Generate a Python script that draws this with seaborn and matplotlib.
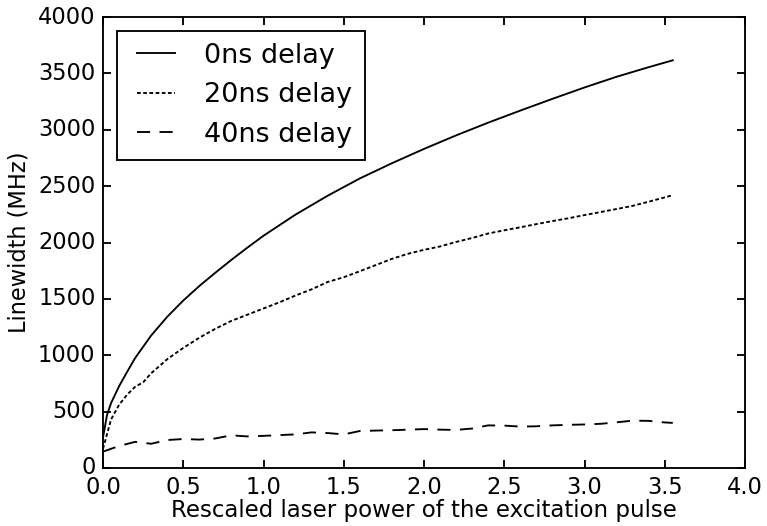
import matplotlib
matplotlib.use("Agg")
import matplotlib.pyplot as plt
import numpy as np
import pandas as pd
import seaborn as sns

# Linewidth vs rescaled excitation power for three delays
power_0ns = [0.0, 0.025, 0.05, 0.1, 0.15, 0.2, 0.3, 0.4, 0.5, 0.6, 0.7, 0.8, 0.9, 1.0,
             1.2, 1.4, 1.6, 1.8, 2.0, 2.2, 2.4, 2.6, 2.8, 3.0, 3.2, 3.4, 3.55]
width_0ns = [270, 470, 575, 725, 852, 975, 1175, 1341, 1485, 1614, 1732, 1846, 1955, 2060,
             2248, 2415, 2568, 2703, 2830, 2950, 3063, 3170, 3274, 3375, 3470, 3555, 3616]

power_20ns = [0.0, 0.05, 0.1, 0.15, 0.2, 0.25, 0.3, 0.4, 0.5, 0.6, 0.7, 0.8, 0.9, 1.0,
              1.1, 1.2, 1.3, 1.4, 1.5, 1.6, 1.7, 1.8, 1.9, 2.0, 2.1, 2.2, 2.3, 2.4,
              2.5, 2.6, 2.7, 2.8, 2.9, 3.0, 3.1, 3.2, 3.3, 3.4, 3.5, 3.55]
width_20ns = [170, 430, 560, 650, 720, 760, 840, 965, 1065, 1155, 1235, 1305, 1360, 1415,
              1470, 1530, 1585, 1650, 1692, 1745, 1800, 1855, 1900, 1935, 1965, 2005, 2040, 2080,
              2108, 2135, 2163, 2190, 2215, 2243, 2270, 2297, 2325, 2362, 2400, 2420]

power_40ns = [0.0, 0.1, 0.2, 0.3, 0.4, 0.5, 0.6, 0.7, 0.8, 0.9, 1.0, 1.1, 1.2, 1.3,
              1.4, 1.5, 1.6, 1.7, 1.8, 1.9, 2.0, 2.1, 2.2, 2.3, 2.4, 2.5, 2.6, 2.7,
              2.8, 2.9, 3.0, 3.1, 3.2, 3.3, 3.4, 3.5, 3.55]
width_40ns = [145, 195, 232, 215, 248, 257, 252, 262, 290, 280, 285, 292, 298, 316,
              310, 298, 328, 332, 335, 340, 345, 340, 338, 350, 378, 376, 367, 370,
              378, 383, 386, 392, 405, 420, 418, 404, 400]

labels = ["0ns delay", "20ns delay", "40ns delay"]
x_ticks = [0.0, 0.5, 1.0, 1.5, 2.0, 2.5, 3.0, 3.5, 4.0]
y_ticks = [0, 500, 1000, 1500, 2000, 2500, 3000, 3500, 4000]

plt.style.use("classic")
plt.rcParams["font.family"] = ["DejaVu Sans"]
plt.rcParams["figure.facecolor"] = "white"
plt.rcParams["savefig.facecolor"] = "white"

dpi = 135
fig = plt.figure(figsize=(767 / dpi, 526 / dpi), dpi=dpi)
ax = fig.add_axes([103 / 767, 58 / 526, 642 / 767, 451 / 526])

series = [
    (power_0ns, width_0ns, labels[0], "-"),
    (power_20ns, width_20ns, labels[1], (0, (2.0, 1.3))),
    (power_40ns, width_40ns, labels[2], (0, (7, 5))),
]
for xs, ys, lab, ls in series:
    df = pd.DataFrame({"power": xs, "width": ys})
    sns.lineplot(data=df, x="power", y="width", ax=ax, color="black",
                 linewidth=1.0, linestyle=ls, label=lab, legend=False)

ax.set_xlim(0, 4)
ax.set_ylim(0, 4000)
ax.set_xticks(x_ticks)
ax.set_yticks(y_ticks)
ax.set_xticklabels([f"{t:.1f}" for t in x_ticks])
ax.set_yticklabels([str(t) for t in y_ticks])
ax.tick_params(direction="in", length=4.5, width=1, labelsize=12,
               top=True, right=True, pad=4)
ax.set_xlabel("Rescaled laser power of the excitation pulse", fontsize=12.2, labelpad=0)
ax.set_ylabel("Linewidth (MHz)", fontsize=12, labelpad=4)

leg = ax.legend(loc="upper left", fontsize=14.4, frameon=True, fancybox=False,
                shadow=False, handlelength=2.0, handletextpad=0.8,
                borderpad=0.45, labelspacing=0.5, borderaxespad=0.5)
leg.get_frame().set_edgecolor("black")
leg.get_frame().set_linewidth(1.0)

fig.savefig("out.png", dpi=dpi)
